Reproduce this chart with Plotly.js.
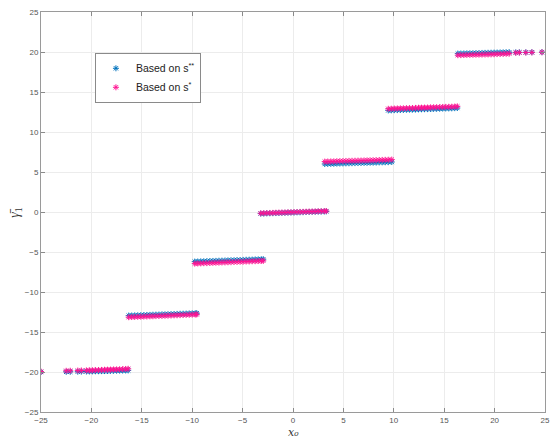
<!DOCTYPE html>
<html>
<head>
<meta charset="utf-8">
<script src="https://cdn.plot.ly/plotly-3.0.1.min.js"></script>
<style>html,body{margin:0;padding:0;background:#fff;}#chart{width:550px;height:440px;}</style>
</head>
<body>
<div id="chart"></div>
<script>
// x positions (shared by both series)
const x0 = [
  -25.0, -22.5, -22.1, -21.35, -21.0, -20.5, -20.2, -19.9, -19.6, -19.3, -19.0, -18.7, -18.4, -18.1, -17.8, -17.5, -17.2, -16.9, -16.6, -16.35,
  -16.3, -16.0, -15.7, -15.4, -15.1, -14.8, -14.5, -14.2, -13.9, -13.6, -13.3, -13.0, -12.7, -12.4, -12.1, -11.8, -11.5, -11.2, -10.9, -10.6, -10.3, -10.0, -9.7, -9.55,
  -9.75, -9.45, -9.15, -8.85, -8.55, -8.25, -7.95, -7.65, -7.35, -7.05, -6.75, -6.45, -6.15, -5.85, -5.55, -5.25, -4.95, -4.65, -4.35, -4.05, -3.75, -3.45, -3.15, -2.95,
  -3.2, -2.9, -2.6, -2.3, -2.0, -1.7, -1.4, -1.1, -0.8, -0.5, -0.2, 0.1, 0.4, 0.7, 1.0, 1.3, 1.6, 1.9, 2.2, 2.5, 2.8, 3.1, 3.3,
  3.15, 3.45, 3.75, 4.05, 4.35, 4.65, 4.95, 5.25, 5.55, 5.85, 6.15, 6.45, 6.75, 7.05, 7.35, 7.65, 7.95, 8.25, 8.55, 8.85, 9.15, 9.45, 9.8,
  9.45, 9.75, 10.05, 10.35, 10.65, 10.95, 11.25, 11.55, 11.85, 12.15, 12.45, 12.75, 13.05, 13.35, 13.65, 13.95, 14.25, 14.55, 14.85, 15.15, 15.45, 15.75, 16.05, 16.3,
  16.35, 16.65, 16.95, 17.25, 17.55, 17.85, 18.15, 18.45, 18.75, 19.05, 19.35, 19.65, 19.95, 20.25, 20.55, 20.85, 21.15, 21.45, 22.1, 22.45, 23.1, 23.7, 24.7
];
// gamma-bar_1 based on s**
const ySS = [
  -20.0, -19.98, -19.97, -19.96, -19.95, -19.94, -19.93, -19.92, -19.91, -19.9, -19.89, -19.88, -19.87, -19.86, -19.85, -19.84, -19.83, -19.82, -19.81, -19.8,
  -12.95, -12.94, -12.92, -12.91, -12.9, -12.88, -12.87, -12.86, -12.84, -12.83, -12.82, -12.8, -12.79, -12.78, -12.76, -12.75, -12.74, -12.72, -12.71, -12.7, -12.68, -12.67, -12.66, -12.65,
  -6.2, -6.19, -6.17, -6.16, -6.15, -6.13, -6.12, -6.11, -6.09, -6.08, -6.07, -6.05, -6.04, -6.03, -6.01, -6.0, -5.99, -5.97, -5.96, -5.95, -5.93, -5.92, -5.91, -5.9,
  -0.2, -0.19, -0.17, -0.16, -0.15, -0.13, -0.12, -0.11, -0.1, -0.08, -0.07, -0.06, -0.04, -0.03, -0.02, 0.0, 0.01, 0.02, 0.03, 0.05, 0.06, 0.07, 0.08,
  6.0, 6.01, 6.02, 6.03, 6.05, 6.06, 6.07, 6.08, 6.09, 6.1, 6.11, 6.12, 6.13, 6.14, 6.15, 6.16, 6.17, 6.18, 6.2, 6.21, 6.22, 6.23, 6.25,
  12.7, 12.71, 12.73, 12.74, 12.75, 12.76, 12.78, 12.79, 12.8, 12.81, 12.83, 12.84, 12.85, 12.86, 12.88, 12.89, 12.9, 12.91, 12.93, 12.94, 12.95, 12.96, 12.98, 13.0,
  19.8, 19.81, 19.82, 19.83, 19.84, 19.85, 19.86, 19.87, 19.88, 19.89, 19.9, 19.91, 19.92, 19.93, 19.94, 19.95, 19.96, 19.97, 19.95, 19.96, 19.96, 19.97, 19.98
];
// gamma-bar_1 based on s*
const yS = [
  -19.95, -19.85, -19.84, -19.82, -19.81, -19.8, -19.79, -19.78, -19.76, -19.75, -19.74, -19.72, -19.71, -19.7, -19.68, -19.67, -19.66, -19.64, -19.62, -19.6,
  -13.15, -13.13, -13.12, -13.1, -13.09, -13.07, -13.06, -13.04, -13.03, -13.01, -13.0, -12.98, -12.97, -12.95, -12.94, -12.92, -12.91, -12.89, -12.88, -12.86, -12.85, -12.83, -12.82, -12.8,
  -6.45, -6.43, -6.42, -6.4, -6.39, -6.37, -6.36, -6.34, -6.33, -6.31, -6.3, -6.28, -6.27, -6.25, -6.24, -6.22, -6.21, -6.19, -6.18, -6.16, -6.15, -6.13, -6.12, -6.1,
  -0.16, -0.15, -0.13, -0.12, -0.11, -0.09, -0.08, -0.07, -0.06, -0.04, -0.03, -0.02, 0.0, 0.01, 0.02, 0.04, 0.05, 0.06, 0.07, 0.09, 0.1, 0.11, 0.12,
  6.3, 6.31, 6.32, 6.33, 6.35, 6.36, 6.37, 6.38, 6.39, 6.4, 6.41, 6.42, 6.43, 6.44, 6.45, 6.46, 6.47, 6.48, 6.5, 6.51, 6.52, 6.53, 6.55,
  12.9, 12.91, 12.93, 12.94, 12.95, 12.96, 12.98, 12.99, 13.0, 13.01, 13.03, 13.04, 13.05, 13.06, 13.08, 13.09, 13.1, 13.11, 13.13, 13.14, 13.15, 13.16, 13.18, 13.2,
  19.6, 19.61, 19.62, 19.63, 19.64, 19.65, 19.66, 19.67, 19.68, 19.69, 19.7, 19.71, 19.72, 19.74, 19.75, 19.76, 19.78, 19.8, 19.9, 19.92, 19.93, 19.95, 19.97
];
const tickVals = [-25, -20, -15, -10, -5, 0, 5, 10, 15, 20, 25];
const seriesNames = ['Based on s<sup>**</sup>', 'Based on s<sup>*</sup>'];

const tickFont = {family: 'Liberation Sans, Arial, sans-serif', size: 8, color: '#555'};
const axisCommon = {
  range: [-25, 25], tickvals: tickVals, ticks: 'inside', ticklen: 4, tickcolor: '#8a8a8a',
  showline: true, linecolor: '#9a9a9a', linewidth: 1, mirror: 'ticks',
  showgrid: true, gridcolor: '#ececec', zeroline: false, tickfont: tickFont, automargin: false, fixedrange: true
};

const traces = [
  {x: x0, y: ySS, type: 'scatter', mode: 'markers', name: seriesNames[0],
   marker: {symbol: 'asterisk-open', size: 5, color: '#0072BD', line: {color: '#0072BD', width: 1}}},
  {x: x0, y: yS, type: 'scatter', mode: 'markers', name: seriesNames[1],
   marker: {symbol: 'asterisk-open', size: 5, color: '#FF1493', line: {color: '#FF1493', width: 1}}}
];

const layout = {
  width: 550, height: 440,
  margin: {l: 41, r: 5, t: 12, b: 28},
  paper_bgcolor: '#fff', plot_bgcolor: '#fff',
  showlegend: true,
  xaxis: Object.assign({}, axisCommon),
  yaxis: Object.assign({}, axisCommon),
  legend: {x: 0.107, y: 0.898, xanchor: 'left', yanchor: 'top', bgcolor: '#fff',
           bordercolor: '#8a8a8a', borderwidth: 1, itemwidth: 30, tracegroupgap: 0,
           font: {family: 'Liberation Sans, Arial, sans-serif', size: 10.5, color: '#222'}},
  annotations: [
    {xref: 'paper', yref: 'paper', x: 0.5, y: -0.0698, xanchor: 'center', yanchor: 'bottom', showarrow: false, borderpad: 0,
     text: '<i>x₀</i>', font: {family: 'DejaVu Serif, Liberation Serif, serif', size: 11, color: '#333'}},
    {xref: 'paper', yref: 'paper', x: -0.052, y: 0.5, xanchor: 'center', yanchor: 'middle', showarrow: false, textangle: -90,
     text: '<i>γ̄</i><sub>1</sub>', font: {family: 'Liberation Serif, DejaVu Serif, serif', size: 14, color: '#333'}}
  ]
};

Plotly.newPlot('chart', traces, layout, {displayModeBar: false, staticPlot: true});
</script>
</body>
</html>
